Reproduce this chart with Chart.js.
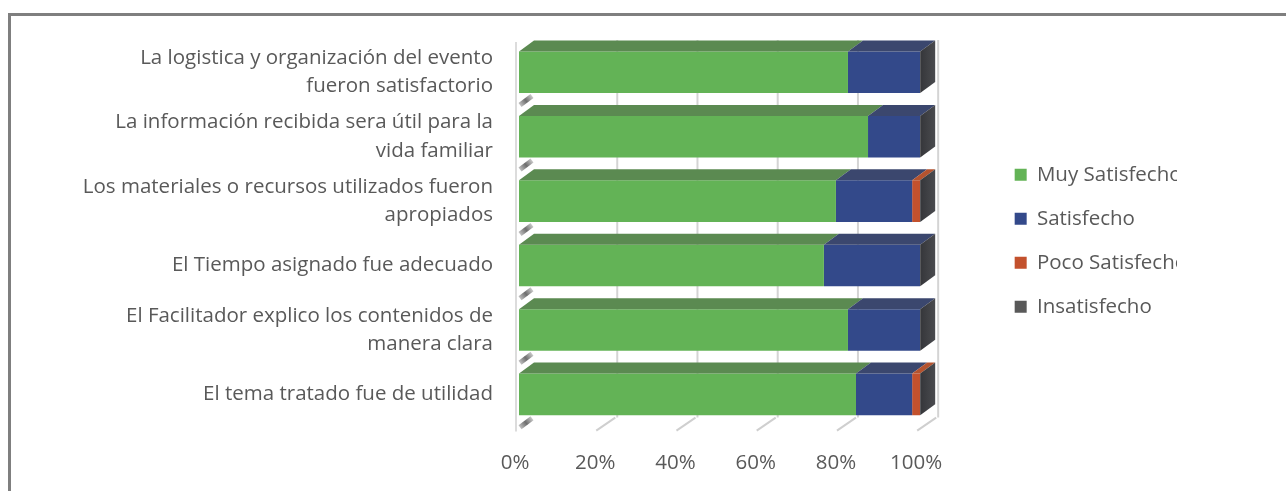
<!DOCTYPE html>
<html>
<head>
<meta charset="utf-8">
<script src="https://cdn.jsdelivr.net/npm/chart.js@4"></script>
<style>
  html, body { margin: 0; padding: 0; background: #fff; width: 1286px; height: 491px; overflow: hidden; }
  #frameTop { position: absolute; left: 8px; top: 13px; width: 1278px; height: 0; border-top: 3px solid #7f7f7f; }
  #frameLeft { position: absolute; left: 8px; top: 13px; width: 0; height: 478px; border-left: 3px solid #7f7f7f; }
  #wrap { position: absolute; left: 0; top: 0; width: 1177px; height: 491px; overflow: hidden; }
  canvas { display: block; }
</style>
</head>
<body>
<div id="frameTop"></div>
<div id="frameLeft"></div>
<div id="wrap"><canvas id="c" width="1286" height="491"></canvas></div>
<script>
// Survey statements (top to bottom) and answer shares in percent
const categories = [
  ['La logistica y organización del evento', 'fueron satisfactorio'],
  ['La información recibida sera útil para la', 'vida familiar'],
  ['Los materiales o recursos utilizados fueron', 'apropiados'],
  'El Tiempo asignado fue adecuado',
  ['El Facilitador explico los contenidos de', 'manera clara'],
  'El tema tratado fue de utilidad'
];
const seriesNames = ['Muy Satisfecho', 'Satisfecho', 'Poco Satisfecho', 'Insatisfecho'];
const muySatisfecho  = [82, 87, 79, 76, 82, 84];
const satisfecho     = [18, 13, 19, 24, 18, 14];
const pocoSatisfecho = [0, 0, 2, 0, 0, 2];
const insatisfecho   = [0, 0, 0, 0, 0, 0];
const xTickLabels = ['0%', '20%', '40%', '60%', '80%', '100%'];

// Styling
const FONT = "'Open Sans', sans-serif";
const FONT_SIZE = 20.5;
const TEXT = '#595959';
const frontColors = ['#63b356', '#33498a', '#c3512d', '#595959'];
const topColors   = ['#5b8a51', '#3b476e', '#b4532f', '#4a4a4a'];
const DX = 15, DY = 11;          // bar depth offset
const GRID_DX = 18;              // back-wall offset of the grid
const LEGEND_LEFT = 991;
const SPACER = 71;

function poly(ctx, pts, fill) {
  ctx.beginPath();
  ctx.moveTo(pts[0][0], pts[0][1]);
  for (let i = 1; i < pts.length; i++) ctx.lineTo(pts[i][0], pts[i][1]);
  ctx.closePath();
  ctx.fillStyle = fill;
  ctx.fill();
}
function seg(ctx, x1, y1, x2, y2) {
  ctx.beginPath(); ctx.moveTo(x1, y1); ctx.lineTo(x2, y2); ctx.stroke();
}

// Draws the walls/floor behind the bars and the top/side faces on them
const depth3d = {
  id: 'depth3d',
  beforeDatasetsDraw(chart) {
    const { ctx, chartArea: a, scales: { x } } = chart;
    ctx.save();
    ctx.lineWidth = 2;
    ctx.strokeStyle = '#d4d4d4';
    for (let v = 20; v <= 100; v += 20) {
      const px = x.getPixelForValue(v) + GRID_DX;
      seg(ctx, px, a.top, px, a.bottom - 9);
    }
    const x0 = x.getPixelForValue(0);
    ctx.strokeStyle = '#dcdcdc';
    seg(ctx, x0 - 3, a.top + 2, x0 - 3, a.bottom + 5);
    ctx.strokeStyle = '#cfcfcf';
    for (let v = 20; v <= 100; v += 20) {
      const px = x.getPixelForValue(v);
      seg(ctx, px - 3, a.bottom + 4, px + 16, a.bottom - 9);
    }
    ctx.restore();
  },
  afterDatasetsDraw(chart) {
    const { ctx, scales: { x } } = chart;
    const x0 = x.getPixelForValue(0);
    ctx.save();
    const n = chart.data.datasets.length;
    for (let d = 0; d < n; d++) {
      const meta = chart.getDatasetMeta(d);
      meta.data.forEach(el => {
        const p = el.getProps(['x', 'y', 'base', 'height'], true);
        const l = Math.min(p.base, p.x), r = Math.max(p.base, p.x);
        const t = p.y - p.height / 2, b = p.y + p.height / 2;
        if (r - l > 0.2) {
          poly(ctx, [[l, t], [r, t], [r + DX, t - DY], [l + DX, t - DY]], topColors[d]);
        }
        if (d === n - 1) {
          const g = ctx.createLinearGradient(r, 0, r + DX, 0);
          g.addColorStop(0, '#35363a');
          g.addColorStop(1, '#4a4b4f');
          poly(ctx, [[r, t], [r + DX, t - DY], [r + DX, b - DY], [r, b]], g);
          // shading on the left wall below each bar
          const sg = ctx.createLinearGradient(x0, b + 12, x0 + 13, b + 2);
          sg.addColorStop(0, '#c8c8c8');
          sg.addColorStop(0.5, '#6e6e6e');
          sg.addColorStop(1, '#d0d0d0');
          ctx.strokeStyle = sg;
          ctx.lineWidth = 5;
          seg(ctx, x0 + 1, b + 12, x0 + 13, b + 3);
        }
      });
    }
    ctx.restore();
  }
};

const seriesData = [muySatisfecho, satisfecho, pocoSatisfecho, insatisfecho];

const chart = new Chart(document.getElementById('c'), {
  type: 'bar',
  data: {
    labels: categories,
    datasets: seriesNames.map((name, i) => ({
      label: name,
      data: seriesData[i],
      backgroundColor: frontColors[i],
      borderWidth: 0,
      xAxisID: 'x',
      yAxisID: 'y',
      barPercentage: 0.645,
      categoryPercentage: 1
    }))
  },
  options: {
    indexAxis: 'y',
    responsive: false,
    animation: false,
    layout: { padding: { top: 35, bottom: 0, left: 0, right: 0 } },
    scales: {
      x: {
        stacked: true, min: 0, max: 100,
        grid: { display: false, drawTicks: false },
        border: { display: false },
        ticks: {
          stepSize: 20, padding: 24, labelOffset: -4, color: TEXT,
          maxRotation: 0, autoSkip: false,
          font: { family: FONT, size: FONT_SIZE },
          callback: (v) => xTickLabels[Math.round(v / 20)]
        },
        afterFit(s) { s.height = 491 - 426.6; }
      },
      y: {
        stacked: true,
        grid: { display: false, drawTicks: false },
        border: { display: false },
        ticks: { padding: 26, color: TEXT, font: { family: FONT, size: FONT_SIZE, lineHeight: 1.37 } },
        afterFit(s) { s.width = 519; }
      },
      spacer: {
        type: 'linear', position: 'right', display: true,
        grid: { display: false, drawTicks: false },
        border: { display: false },
        ticks: { display: false },
        afterFit(s) { s.width = SPACER; }
      }
    },
    plugins: {
      tooltip: { enabled: false },
      legend: {
        position: 'right',
        fullSize: false,
        title: { display: true, text: '', padding: { top: 5, bottom: 0 }, font: { size: 10, lineHeight: 1 } },
        labels: {
          boxWidth: 12, boxHeight: 12, padding: 23.5, color: TEXT,
          font: { family: FONT, size: FONT_SIZE }
        }
      }
    }
  },
  plugins: [depth3d]
});

// place the legend block at its column (layout settles after a few passes)
for (let k = 0; k < 4; k++) {
  const off = chart.legend.left - LEGEND_LEFT;
  if (Math.abs(off) < 0.5) break;
  chart.options.layout.padding.right = Math.max(0, chart.options.layout.padding.right + off);
  chart.update('none');
}
</script>
</body>
</html>
